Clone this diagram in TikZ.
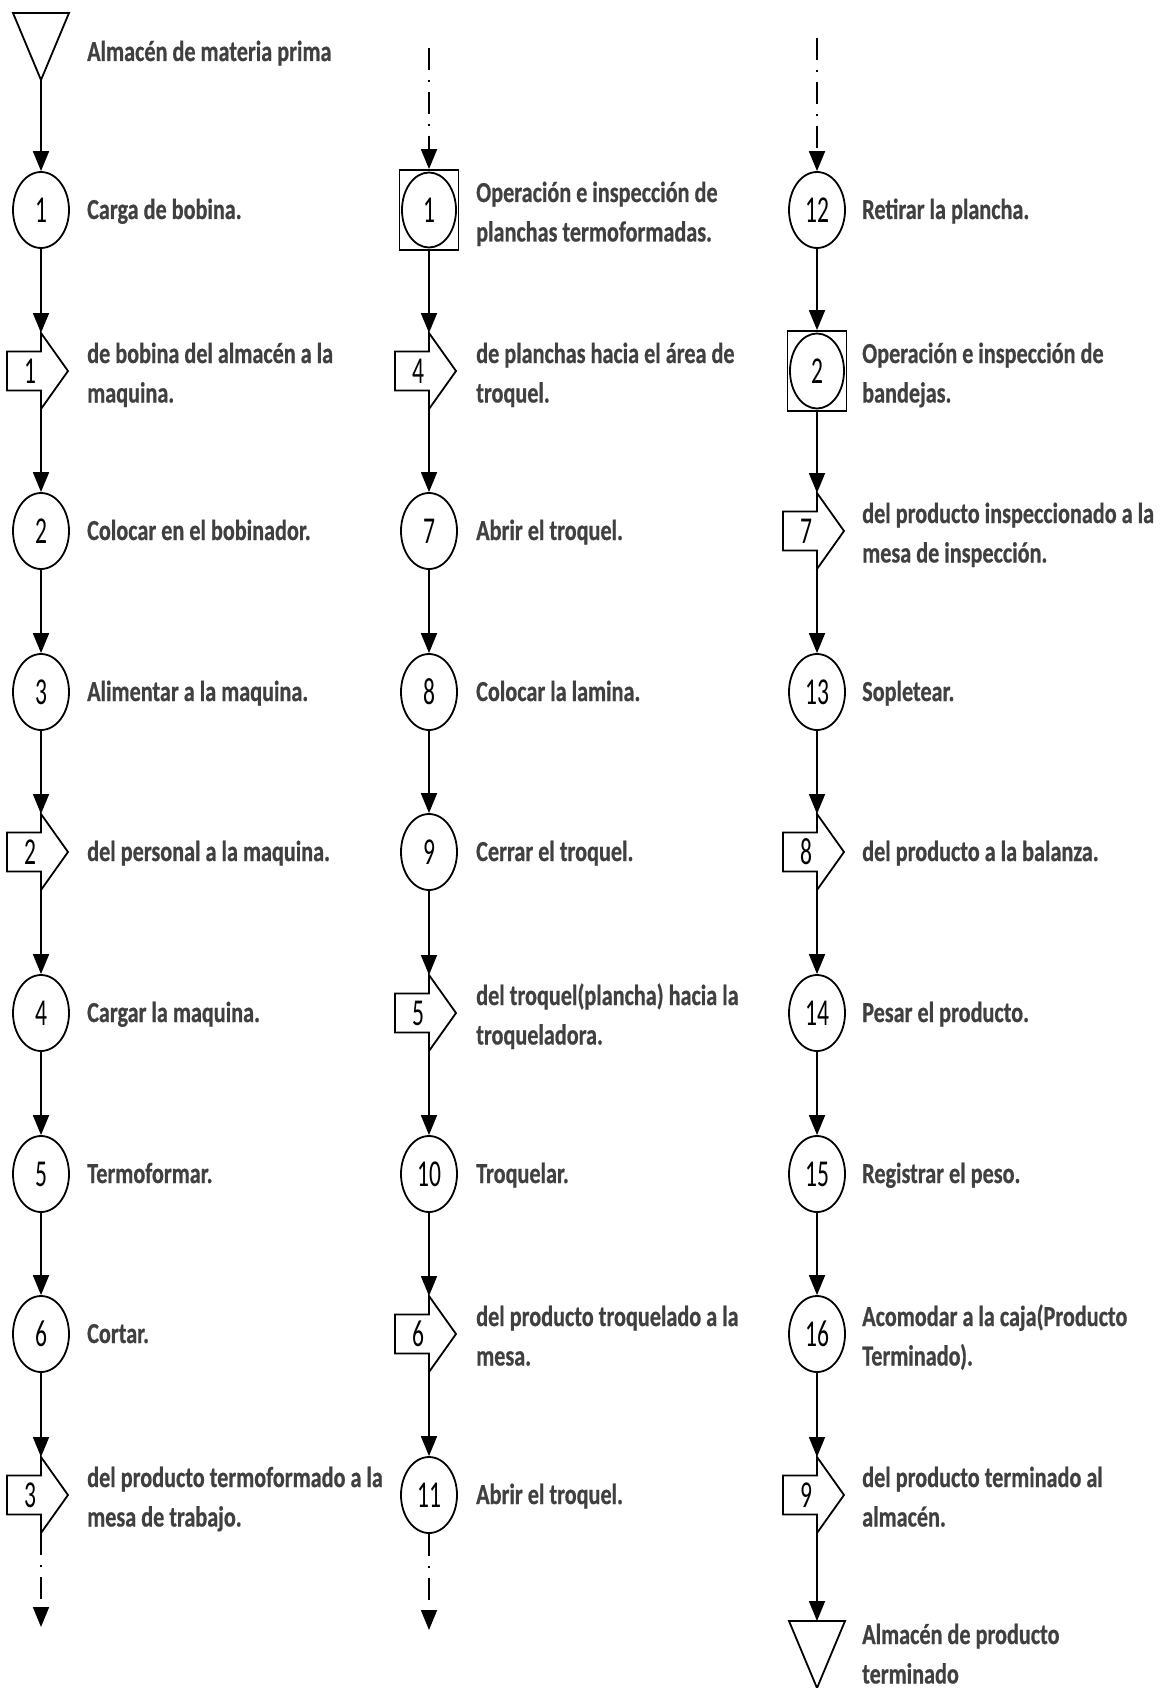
\documentclass[tikz,border=0pt]{standalone}
\usepackage{fontspec}
\usetikzlibrary{arrows.meta,shapes.geometric}
\newfontfamily\lblfont[FakeStretch=0.765,FakeBold=0.6]{Carlito Bold}
\newfontfamily\numfont[FakeStretch=0.62]{Carlito}
\definecolor{labelgray}{HTML}{404040}
\newcommand\twoline[2]{\begin{tabular}[t]{@{}l@{}}#1\\#2\end{tabular}}

\tikzset{
  outline/.style={draw=black, line width=1.8pt, line join=miter},
  flow/.style={line width=1.8pt, -{Triangle[length=20pt,width=16pt]}},
  linkdash/.style={flow, dash pattern=on 22pt off 10pt on 2pt off 10pt},
  numtext/.style={font=\numfont\fontsize{38}{40}\selectfont, text=black},
  oper/.style={ellipse, outline, minimum width=56pt, minimum height=76pt,
    inner sep=0pt, numtext},
  operin/.style={ellipse, outline, minimum width=54pt, minimum height=75pt,
    inner sep=0pt, numtext},
  opbox/.style={rectangle, outline, minimum width=59pt, minimum height=80pt,
    inner sep=0pt},
  lbl/.style={anchor=base west, inner sep=0pt, text=labelgray,
    font=\lblfont\fontsize{29}{39.5}\selectfont},
  transport/.pic={
    \draw[outline] (-34,-19.5) -- (0,-19.5) -- (0,-38) -- (27,0)
      -- (0,38) -- (0,19.5) -- (-34,19.5) -- cycle;
    \node[numtext, inner sep=0pt] (-n) at (-11,0) {#1};
    \coordinate (-in) at (0,-38);
    \coordinate (-out) at (0,38);
  },
}

\begin{document}
\begin{tikzpicture}[x=1pt,y=-1pt]
\useasboundingbox (0,0) rectangle (1162,1688);

% ---------- first column ----------
\draw[outline] (13,13) -- (69,13) -- (41,80) -- cycle;
\coordinate (a0) at (41,80);
\node[lbl] (la0) at (87,61) {Almacén de materia prima};

\node[oper] (a1) at (41,210) {1};
\node[lbl] (la1) at (87,219) {Carga de bobina.};
\pic (a2) at (41,371) {transport=1};
\node[lbl] (la2) at (87,363) {\twoline{de bobina del almacén a la}{maquina.}};
\node[oper] (a3) at (41,531) {2};
\node[lbl] (la3) at (87,540) {Colocar en el bobinador.};
\node[oper] (a4) at (41,692) {3};
\node[lbl] (la4) at (87,701) {Alimentar a la maquina.};
\pic (a5) at (41,852) {transport=2};
\node[lbl] (la5) at (87,861) {del personal a la maquina.};
\node[oper] (a6) at (41,1013) {4};
\node[lbl] (la6) at (87,1022) {Cargar la maquina.};
\node[oper] (a7) at (41,1174) {5};
\node[lbl] (la7) at (87,1183) {Termoformar.};
\node[oper] (a8) at (41,1334) {6};
\node[lbl] (la8) at (87,1343) {Cortar.};
\pic (a9) at (41,1495) {transport=3};
\node[lbl] (la9) at (87,1487) {\twoline{del producto termoformado a la}{mesa de trabajo.}};
\coordinate (aend) at (41,1627);

\draw[flow] (a0) -- (a1.north);
\draw[flow] (a1.south) -- (a2-in);
\draw[flow] (a2-out) -- (a3.north);
\draw[flow] (a3.south) -- (a4.north);
\draw[flow] (a4.south) -- (a5-in);
\draw[flow] (a5-out) -- (a6.north);
\draw[flow] (a6.south) -- (a7.north);
\draw[flow] (a7.south) -- (a8.north);
\draw[flow] (a8.south) -- (a9-in);
\draw[linkdash] (a9-out) -- (aend);

% ---------- second column ----------
\coordinate (bstart) at (429,48);
\node[opbox] (b1) at (429,210) {};
\node[operin] (b1c) at (429,210) {1};
\node[lbl] (lb1) at (476,202) {\twoline{Operación e inspección de}{planchas termoformadas.}};
\pic (b2) at (429,371) {transport=4};
\node[lbl] (lb2) at (476,363) {\twoline{de planchas hacia el área de}{troquel.}};
\node[oper] (b3) at (429,531) {7};
\node[lbl] (lb3) at (476,540) {Abrir el troquel.};
\node[oper] (b4) at (429,692) {8};
\node[lbl] (lb4) at (476,701) {Colocar la lamina.};
\node[oper] (b5) at (429,852) {9};
\node[lbl] (lb5) at (476,861) {Cerrar el troquel.};
\pic (b6) at (429,1013) {transport=5};
\node[lbl] (lb6) at (476,1005) {\twoline{del troquel(plancha) hacia la}{troqueladora.}};
\node[oper] (b7) at (429,1174) {10};
\node[lbl] (lb7) at (476,1183) {Troquelar.};
\pic (b8) at (429,1334) {transport=6};
\node[lbl] (lb8) at (476,1326) {\twoline{del producto troquelado a la}{mesa.}};
\node[oper] (b9) at (429,1495) {11};
\node[lbl] (lb9) at (476,1504) {Abrir el troquel.};
\coordinate (bend) at (429,1630);

\draw[linkdash] (bstart) -- (b1.north);
\draw[flow] (b1.south) -- (b2-in);
\draw[flow] (b2-out) -- (b3.north);
\draw[flow] (b3.south) -- (b4.north);
\draw[flow] (b4.south) -- (b5.north);
\draw[flow] (b5.south) -- (b6-in);
\draw[flow] (b6-out) -- (b7.north);
\draw[flow] (b7.south) -- (b8-in);
\draw[flow] (b8-out) -- (b9.north);
\draw[linkdash] (b9.south) -- (bend);

% ---------- third column ----------
\coordinate (cstart) at (817,38);
\node[oper] (c1) at (817,210) {12};
\node[lbl] (lc1) at (862,219) {Retirar la plancha.};
\node[opbox] (c2) at (817,371) {};
\node[operin] (c2c) at (817,371) {2};
\node[lbl] (lc2) at (862,363) {\twoline{Operación e inspección de}{bandejas.}};
\pic (c3) at (817,531) {transport=7};
\node[lbl] (lc3) at (862,523) {\twoline{del producto inspeccionado a la}{mesa de inspección.}};
\node[oper] (c4) at (817,692) {13};
\node[lbl] (lc4) at (862,701) {Sopletear.};
\pic (c5) at (817,852) {transport=8};
\node[lbl] (lc5) at (862,861) {del producto a la balanza.};
\node[oper] (c6) at (817,1013) {14};
\node[lbl] (lc6) at (862,1022) {Pesar el producto.};
\node[oper] (c7) at (817,1174) {15};
\node[lbl] (lc7) at (862,1183) {Registrar el peso.};
\node[oper] (c8) at (817,1334) {16};
\node[lbl] (lc8) at (862,1326) {\twoline{Acomodar a la caja(Producto}{Terminado).}};
\pic (c9) at (817,1495) {transport=9};
\node[lbl] (lc9) at (862,1487) {\twoline{del producto terminado al}{almacén.}};
\draw[outline] (789,1621) -- (845,1621) -- (817,1688) -- cycle;
\coordinate (c10) at (817,1621);
\node[lbl] (lc10) at (862,1644) {\twoline{Almacén de producto}{terminado}};

\draw[linkdash] (cstart) -- (c1.north);
\draw[flow] (c1.south) -- (c2.north);
\draw[flow] (c2.south) -- (c3-in);
\draw[flow] (c3-out) -- (c4.north);
\draw[flow] (c4.south) -- (c5-in);
\draw[flow] (c5-out) -- (c6.north);
\draw[flow] (c6.south) -- (c7.north);
\draw[flow] (c7.south) -- (c8.north);
\draw[flow] (c8.south) -- (c9-in);
\draw[flow] (c9-out) -- (c10);
\end{tikzpicture}
\end{document}
